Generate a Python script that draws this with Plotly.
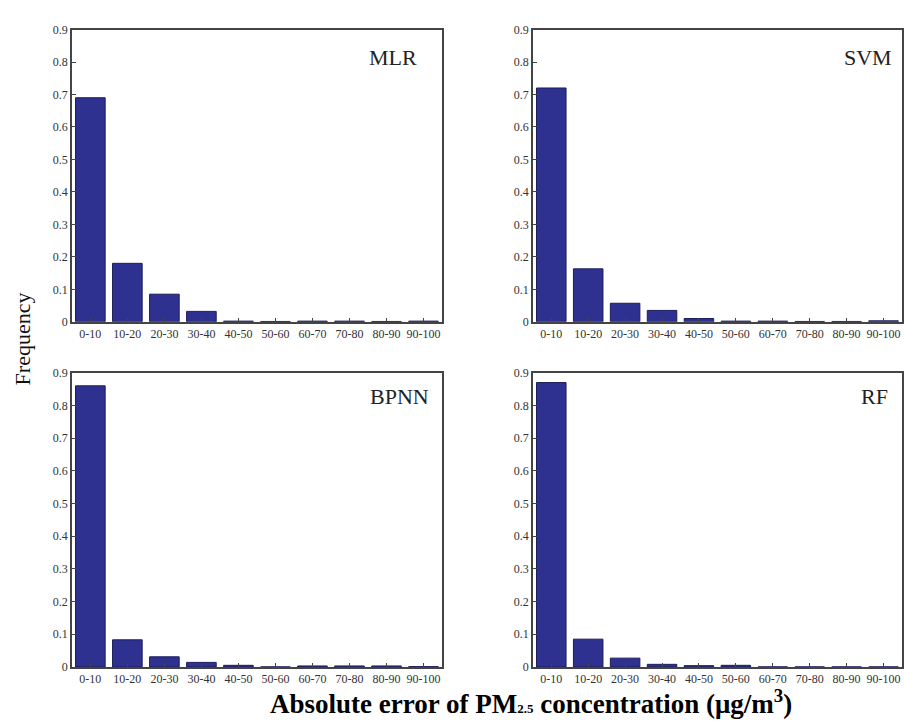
import plotly.graph_objects as go

categories = ["0-10", "10-20", "20-30", "30-40", "40-50", "50-60", "60-70", "70-80", "80-90", "90-100"]
mlr = [0.69, 0.18, 0.085, 0.032, 0.002, 0.001, 0.002, 0.002, 0.001, 0.002]
svm = [0.72, 0.163, 0.057, 0.035, 0.01, 0.002, 0.002, 0.001, 0.001, 0.003]
bpnn = [0.86, 0.083, 0.031, 0.014, 0.005, 0.0, 0.003, 0.003, 0.003, 0.001]
rf = [0.87, 0.085, 0.027, 0.008, 0.004, 0.005, 0.0, 0.0, 0.0, 0.0]
panels = [("MLR", mlr), ("SVM", svm), ("BPNN", bpnn), ("RF", rf)]
yticks = [0, 0.1, 0.2, 0.3, 0.4, 0.5, 0.6, 0.7, 0.8, 0.9]
ytick_text = ["0", "0.1", "0.2", "0.3", "0.4", "0.5", "0.6", "0.7", "0.8", "0.9"]

W, H = 904, 722
px_x = [(72, 443), (534, 904), (72, 443), (534, 904)]
px_y = [(23, 321), (23, 321), (373, 673), (373, 673)]
label_pos = [(394, 51), (870, 51), (400, 397), (876, 397)]

fig = go.Figure()
serif = "Liberation Serif, Times New Roman, serif"
for i, (name, vals) in enumerate(panels):
    k = "" if i == 0 else str(i + 1)
    fig.add_trace(go.Bar(x=categories, y=vals, xaxis="x" + k, yaxis="y" + k,
                         marker=dict(color="#2e3190", line=dict(color="#1c1d5c", width=1)),
                         showlegend=False))
    x0, x1 = px_x[i]
    y0, y1 = px_y[i]
    fig.update_layout(**{
        "xaxis" + k: dict(domain=[x0 / W, x1 / W], anchor="y" + k, type="category",
                          range=[-0.5, 9.5], showline=True, mirror=True, linecolor="#444",
                          linewidth=1.5, ticks="inside", ticklen=4, tickcolor="#444",
                          tickfont=dict(family=serif, size=12, color="#333"),
                          tickangle=0,
                          showgrid=False, zeroline=False, fixedrange=True),
        "yaxis" + k: dict(domain=[1 - y1 / H, 1 - y0 / H], anchor="x" + k,
                          range=[0, 0.9], tickvals=yticks, ticktext=ytick_text,
                          showline=True, mirror=True, linecolor="#444", linewidth=1.5,
                          ticks="inside", ticklen=4, tickcolor="#444",
                          tickfont=dict(family=serif, size=12, color="#333"),
                          showgrid=False, zeroline=False, fixedrange=True),
    })
    lx, ly = label_pos[i]
    fig.add_annotation(x=lx / W, y=1 - ly / H, xref="paper", yref="paper", text=name,
                       showarrow=False, font=dict(family=serif, size=22, color="#222"),
                       xanchor="center", yanchor="middle")

fig.add_annotation(x=532 / W, y=1 - 709 / H, xref="paper", yref="paper",
                   text="<b>Absolute error of PM<span style='font-size:13px'>2.5</span> concentration (μg/m<sup>3</sup>)</b>",
                   showarrow=False, font=dict(family=serif, size=27, color="#000"),
                   xanchor="center", yanchor="middle")
fig.add_annotation(x=22 / W, y=1 - 338 / H, xref="paper", yref="paper", text="Frequency",
                   textangle=-90, showarrow=False, font=dict(family=serif, size=22, color="#111"),
                   xanchor="center", yanchor="middle")

fig.update_layout(width=W, height=H, margin=dict(l=0, r=0, t=0, b=0),
                  paper_bgcolor="white", plot_bgcolor="white", bargap=0.2)
fig.write_html("out.html", config={"displayModeBar": False},
               post_script="document.body.style.margin='0';document.body.style.overflow='hidden';")
